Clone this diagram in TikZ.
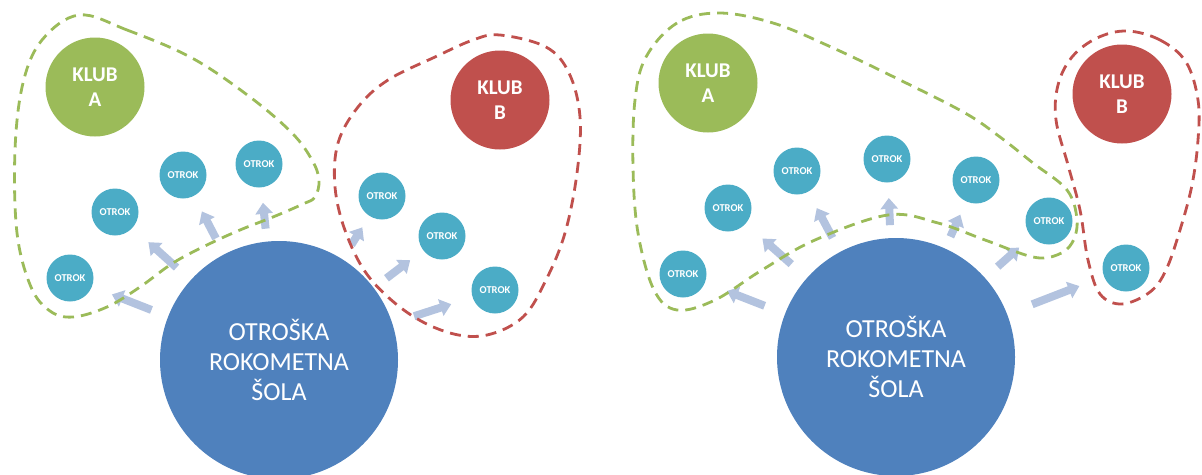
\documentclass[tikz,border=0pt]{standalone}
\usepackage{fontspec}
\setmainfont{Carlito}
\usetikzlibrary{calc,arrows.meta}
\definecolor{clubgreen}{HTML}{9BBB59}
\definecolor{clubred}{HTML}{C0504D}
\definecolor{schoolblue}{HTML}{4F81BD}
\definecolor{kidcyan}{HTML}{4BACC6}
\definecolor{flowblue}{HTML}{B3C3DF}
\begin{document}
\begin{tikzpicture}[x=1pt,y=-1pt,
  school/.style={circle, fill=schoolblue, minimum size=238pt, inner sep=0pt,
    text=white, align=center, font=\fontsize{26}{30}\selectfont},
  club/.style={circle, minimum size=99pt, inner sep=0pt, text=white,
    align=center, font=\bfseries\fontsize{21}{25}\selectfont},
  kid/.style={circle, fill=kidcyan, minimum size=47pt, inner sep=0pt,
    text=white, font=\bfseries\fontsize{10.5}{12}\selectfont},
  move/.style={draw=flowblue, line width=8pt,
    -{Triangle[width=17pt,length=11pt]}},
  group/.style={line width=2.8pt, dash pattern=on 11pt off 7pt},
]
\useasboundingbox (0,0) rectangle (1202,474);
\clip (0,0) rectangle (1202,474);

% ---------- left: each club keeps its own children ----------
\node[school] (L) at (279,360) {OTROŠKA\\ROKOMETNA\\ŠOLA};
\node[club, fill=clubgreen] (LA) at (95,87) {KLUB\\A};
\node[club, fill=clubred] (LB) at (500,100) {KLUB\\B};
\node[kid] (lo1) at (70,278) {OTROK};
\node[kid] (lo2) at (115,212) {OTROK};
\node[kid] (lo3) at (183,175) {OTROK};
\node[kid] (lo4) at (259,164) {OTROK};
\node[kid] (lo5) at (382,196) {OTROK};
\node[kid] (lo6) at (442,236) {OTROK};
\node[kid] (lo7) at (495,290) {OTROK};

\foreach \t/\a/\b in {lo1/137pt/45pt, lo2/138pt/45pt, lo3/137pt/41pt,
                      lo4/132pt/39pt, lo5/136pt/37pt, lo6/135pt/40pt,
                      lo7/142pt/46pt}
  \draw[move] ($(L)!\a!(\t)$) -- ($(\t)!\b!(L)$);

\draw[group, draw=clubgreen] plot[smooth cycle, tension=0.6] coordinates {
  (79,15) (127,30) (192,58) (250,97) (292,133) (312,160) (319,180) (315,197)
  (303,204) (273,217) (240,230) (207,245) (173,263) (140,287) (107,307)
  (73,317) (50,311) (31,287) (17,233) (15,150) (23,83) (42,40)};
\draw[group, draw=clubred] plot[smooth cycle, tension=0.6] coordinates {
  (500,35) (546,47) (569,73) (580,117) (577,173) (565,233) (546,280)
  (523,317) (487,335) (450,333) (408,313) (369,277) (346,233) (335,187)
  (338,143) (358,107) (388,80) (435,57) (473,40)};

% ---------- right: club A reaches further ----------
\node[school] (R) at (896,357) {OTROŠKA\\ROKOMETNA\\ŠOLA};
\node[club, fill=clubgreen] (RA) at (708,83) {KLUB\\A};
\node[club, fill=clubred] (RB) at (1122,94) {KLUB\\B};
\node[kid] (ro1) at (683,274) {OTROK};
\node[kid] (ro2) at (728,208) {OTROK};
\node[kid] (ro3) at (797,171) {OTROK};
\node[kid] (ro4) at (887,159) {OTROK};
\node[kid] (ro5) at (976,180) {OTROK};
\node[kid] (ro6) at (1049,221) {OTROK};
\node[kid] (ro7) at (1126,268) {OTROK};

\foreach \t/\a/\b in {ro1/141pt/47pt, ro2/140pt/46pt, ro3/135pt/42pt,
                      ro4/132pt/39pt, ro5/132pt/38pt, ro6/136pt/40pt,
                      ro7/146pt/50pt}
  \draw[move] ($(R)!\a!(\t)$) -- ($(\t)!\b!(R)$);

\draw[group, draw=clubgreen] plot[smooth cycle, tension=0.6] coordinates {
  (719,13) (677,23) (646,57) (635,100) (633,167) (638,233) (654,290)
  (677,310) (715,300) (762,270) (815,240) (888,215) (938,223) (985,240)
  (1033,257) (1057,255) (1072,243) (1077,220) (1067,190) (1033,163)
  (1000,137) (965,113) (900,80) (831,47) (773,23)};
\draw[group, draw=clubred] plot[smooth cycle, tension=0.6] coordinates {
  (1127,31) (1160,40) (1186,62) (1198,100) (1198,140) (1192,185)
  (1180,230) (1166,270) (1150,292) (1122,304) (1100,294) (1088,260)
  (1080,210) (1068,165) (1056,120) (1058,85) (1072,57) (1097,38)};
\end{tikzpicture}
\end{document}
